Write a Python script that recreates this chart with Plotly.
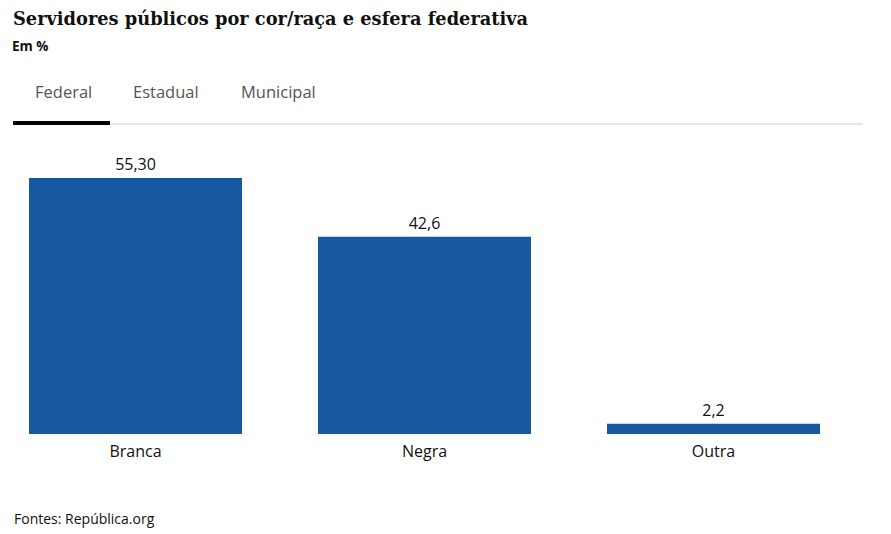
import plotly.graph_objects as go

categories = ["Branca", "Negra", "Outra"]
values = [55.30, 42.6, 2.2]
value_labels = ["55,30", "42,6", "2,2"]
tabs = ["Federal", "Estadual", "Municipal"]
tab_x = [33, 131, 239]

W, H = 891, 534
OFF = 8  # page body margin offset
bar_w = 213 / 289
xs = list(range(len(categories)))

pl, pr, pt, pb = 29 - OFF, 71 + OFF, 178 - OFF, 100 + OFF
pw, ph = W - pl - pr, H - pt - pb

fig = go.Figure()
fig.add_trace(go.Bar(
    x=xs, y=values, width=bar_w,
    marker=dict(color="#1659A0", line=dict(width=0)),
    text=value_labels, textposition="outside",
    textfont=dict(family="Open Sans", size=16, color="#111"),
    cliponaxis=False, hoverinfo="skip",
))

fig.update_layout(
    width=W, height=H,
    margin=dict(l=pl, r=pr, t=pt, b=pb),
    paper_bgcolor="white", plot_bgcolor="white",
    showlegend=False,
    xaxis=dict(range=[-bar_w / 2, 2 + bar_w / 2], tickvals=xs, ticktext=categories,
               showgrid=False, zeroline=False, showline=False, ticks="",
               ticklabelstandoff=6,
               tickfont=dict(family="Open Sans", size=16, color="#111")),
    yaxis=dict(range=[0, 55.3], visible=False, showgrid=False, zeroline=False),
)

ann = [
    dict(text="<b>Servidores públicos por cor/raça e esfera federativa</b>", x=11, y=18,
         font=dict(family="DejaVu Serif", size=17.8, color="#111")),
    dict(text="<b>Em %</b>", x=10, y=46, font=dict(family="Open Sans", size=13.5, color="#111")),
    dict(text="Fontes: República.org", x=12, y=518, font=dict(family="Open Sans", size=14, color="#111")),
]
for t, tx in zip(tabs, tab_x):
    ann.append(dict(text=t, x=tx, y=91, font=dict(family="Open Sans", size=16.5, color="#555")))

annotations = []
for a in ann:
    px = a["x"] - OFF
    py = a["y"] - OFF
    annotations.append(dict(text=a["text"], x=(px - pl) / pw, y=1 - (py - pt) / ph,
                            xref="paper", yref="paper", xanchor="left", yanchor="middle",
                            showarrow=False, font=a["font"]))
fig.update_layout(annotations=annotations)

def shp(x0, y0, x1, y1, color):
    x0, x1, y0, y1 = x0 - OFF, x1 - OFF, y0 - OFF, y1 - OFF
    return dict(type="rect", xref="paper", yref="paper",
                x0=(x0 - pl) / pw, x1=(x1 - pl) / pw,
                y0=1 - (y0 - pt) / ph, y1=1 - (y1 - pt) / ph,
                fillcolor=color, line=dict(width=0), layer="above")

fig.update_layout(shapes=[
    shp(13, 123, 863, 125, "#e6e6e6"),
    shp(13, 121, 110, 125, "#000000"),
])

fig.write_html("out.html")
